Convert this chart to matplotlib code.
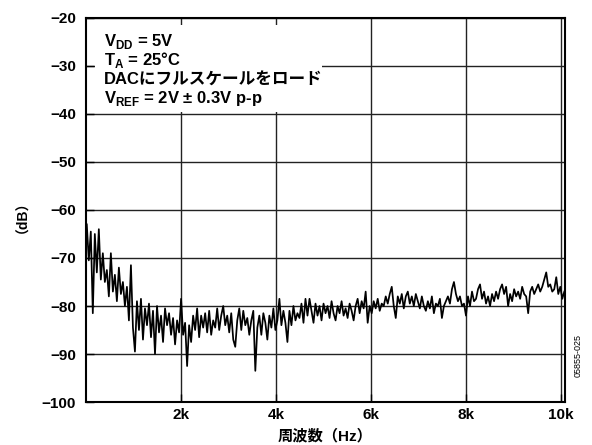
import matplotlib.pyplot as plt
import matplotlib.patches as patches
import numpy as np

plt.rcParams["font.family"] = ["Liberation Sans", "Noto Sans CJK JP"]
plt.rcParams["font.weight"] = "bold"
plt.rcParams["mathtext.fontset"] = "custom"
plt.rcParams["mathtext.rm"] = "Liberation Sans:bold"
plt.rcParams["mathtext.bf"] = "Liberation Sans:bold"

# Noise level, about every 42 Hz from 20 Hz to 10.08 kHz
level_db = [
    -63.0, -70.5, -64.5, -81.5, -65.0, -73.0, -64.0, -74.5, -69.0, -75.0,
    -72.5, -78.0, -69.0, -77.0, -73.5, -79.0, -72.0, -77.5, -75.0, -80.0,
    -76.0, -83.0, -71.5, -84.5, -89.5, -79.0, -85.0, -78.5, -87.0, -80.5,
    -84.0, -79.5, -86.5, -81.0, -90.0, -80.0, -85.5, -82.0, -87.5, -80.5,
    -84.0, -81.5, -86.0, -82.5, -88.0, -83.0, -85.5, -78.5, -86.0, -83.5,
    -92.5, -84.0, -87.5, -82.0, -85.0, -80.5, -86.5, -82.0, -84.5, -81.5,
    -85.5, -81.0, -86.0, -83.0, -84.5, -80.5, -85.0, -82.0, -80.0, -84.0,
    -82.0, -85.5, -81.5, -87.0, -88.5, -83.0, -80.5, -85.0, -81.0, -84.0,
    -82.5, -86.0, -83.0, -81.0, -93.5, -84.5, -82.0, -86.0, -81.5, -83.5,
    -87.0, -82.0, -84.5, -80.5, -85.0, -83.0, -78.5, -84.0, -81.0, -83.5,
    -87.5, -81.0, -84.0, -80.0, -83.0, -81.5, -82.5, -79.5, -83.5, -78.5,
    -82.0, -78.5, -81.0, -83.5, -79.5, -82.0, -80.0, -83.0, -79.5, -81.5,
    -80.0, -82.5, -79.0, -81.5, -83.0, -80.0, -81.5, -79.0, -82.0, -80.5,
    -82.5, -79.5, -81.0, -83.0, -80.0, -78.5, -81.5, -79.0, -80.5, -77.0,
    -83.5, -80.0, -81.5, -79.0, -80.5, -78.5, -81.0, -79.5, -80.0, -78.0,
    -79.5, -77.5, -76.0, -80.0, -82.5, -78.0, -79.5, -77.5, -80.5, -78.0,
    -77.0, -79.5, -78.0, -80.0, -77.5, -79.0, -80.5, -78.0, -80.0, -81.0,
    -79.0, -80.5, -78.0, -81.5, -79.5, -80.0, -78.5, -82.5, -80.0, -79.0,
    -78.0, -79.5, -76.5, -75.0, -77.5, -79.0, -78.0, -80.0, -79.5, -82.0,
    -78.0, -80.0, -77.0, -79.0, -78.5, -76.5, -75.5, -78.5, -77.0, -79.5,
    -78.0, -80.0, -77.5, -79.0, -77.0, -78.5, -76.5, -75.5, -77.5, -76.0,
    -80.0, -77.5, -79.0, -76.5, -78.0, -77.0, -78.5, -76.0, -77.5, -78.0,
    -81.5, -77.0, -76.0, -77.5, -76.5, -75.5, -77.0, -76.0, -74.5, -73.0,
    -76.0, -75.5, -77.0, -76.5, -74.0, -77.5, -76.0, -78.5, -77.0,
]
freq_hz = np.linspace(20, 10070, len(level_db))

x_ticks = [2000, 4000, 6000, 8000, 10000]
x_tick_labels = ["2k", "4k", "6k", "8k", "10k"]
y_ticks = [-100, -90, -80, -70, -60, -50, -40, -30, -20]

notes = [
    r"V$_{\mathrm{DD}}$ = 5V",
    r"T$_{\mathrm{A}}$ = 25°C",
    "DACにフルスケールをロード",
    r"V$_{\mathrm{REF}}$ = 2V ± 0.3V p-p",
]

fig = plt.figure(figsize=(5.92, 4.45), dpi=100)
ax = fig.add_axes([0.145, 0.0966, 0.809, 0.863])

ax.plot(freq_hz, level_db, color="black", linewidth=1.25, zorder=3)

ax.set_xlim(0, 10080)
ax.set_ylim(-100, -20)
ax.set_xticks(x_ticks)
ax.set_xticklabels(x_tick_labels)
ax.set_yticks(y_ticks)
ax.set_yticklabels([f"\u2212{abs(v)}" for v in y_ticks])
ax.tick_params(direction="in", length=6, width=1, labelsize=11)
ax.tick_params(axis="y", pad=7)
ax.tick_params(axis="x", pad=4)
ax.grid(True, color="#222222", linewidth=1.0, zorder=1)
for spine in ax.spines.values():
    spine.set_linewidth(1.5)

# white block behind the condition notes hides the grid
ax.add_patch(patches.Rectangle((0.019, 0.755), 0.475, 0.227,
                               transform=ax.transAxes, facecolor="white",
                               edgecolor="none", zorder=2))
for i, note in enumerate(notes):
    ax.text(0.037, 0.940 - i * 0.0495, note, transform=ax.transAxes,
            fontsize=12, fontweight="bold", va="center", ha="left", zorder=4)

ax.set_xlabel("周波数（Hz）", fontsize=11, fontweight="bold", labelpad=5)
ax.set_ylabel("（dB）", fontsize=10, fontweight="bold", labelpad=14)

fig.text(0.976, 0.202, "05855-025", rotation=90, fontsize=6.5,
         fontweight="normal", ha="center", va="center")

fig.savefig("out.png", dpi=100)
